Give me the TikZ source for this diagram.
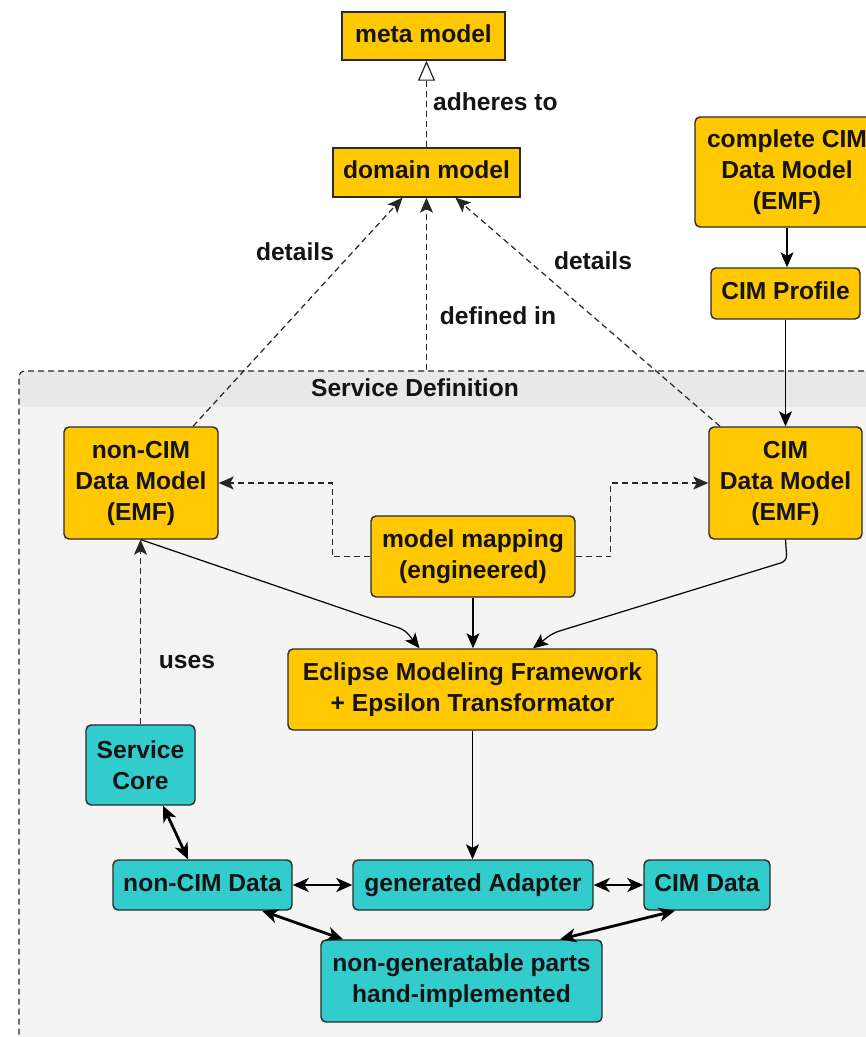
\documentclass[tikz,border=0pt]{standalone}
\usepackage{fontspec}
\setmainfont{Liberation Sans}
\usetikzlibrary{arrows.meta,calc}

\definecolor{gold}{HTML}{FFC800}
\definecolor{coreteal}{HTML}{33CCCC}
\definecolor{edgegray}{HTML}{2A2A2A}
\definecolor{bodybg}{HTML}{F4F4F4}
\definecolor{bandbg}{HTML}{E8E8E8}

\begin{document}
\begin{tikzpicture}[x=1pt,y=-1pt,
  every node/.style={font=\fontsize{24.6}{31}\selectfont\bfseries, align=center, inner sep=0pt, text=black!92},
  oneline/.style={text height=17.6pt, text depth=5.2pt},
  box/.style={draw=edgegray, line width=1.4pt, rounded corners=5pt},
  ybox/.style={box, fill=gold},
  sqbox/.style={ybox, sharp corners},
  tbox/.style={box, fill=coreteal},
  container/.style={draw=edgegray, line width=1.2pt, dash pattern=on 6pt off 4pt,
    fill=bodybg, rounded corners=6pt,
    path picture={\fill[bandbg] (path picture bounding box.north west)
      rectangle ([yshift=-36pt]path picture bounding box.north east);}},
  link/.style={draw=black, line width=1.2pt, -{Stealth[length=15pt,width=13pt,inset=3.5pt]}},
  dlink/.style={link, draw=black!85, dash pattern=on 6pt off 4pt},
  bothway/.style={draw=black, line width=2.8pt,
    {Stealth[length=16pt,width=14pt,inset=4.5pt]}-{Stealth[length=16pt,width=14pt,inset=4.5pt]}}
]
\useasboundingbox (0,0) rectangle (866,1037);
\fill[white] (0,0) rectangle (866,1037);

% Service Definition container (runs past the page on the right and bottom)
\node[container, minimum width=881pt, minimum height=709pt] (svc) at (459.5,725.5) {};
\node[oneline] (svctitle) at (415,390) {Service Definition};

% models above the container
\node[sqbox, oneline, minimum width=163pt, minimum height=48pt] (meta) at (423.5,36) {meta model};
\node[sqbox, oneline, minimum width=187pt, minimum height=49pt] (dom) at (426.5,172.5) {domain model};
\node[ybox, minimum width=184pt, minimum height=110pt] (full) at (787,172) {complete CIM\\Data Model\\(EMF)};
\node[ybox, oneline, minimum width=149pt, minimum height=51pt] (prof) at (785.5,293.5) {CIM Profile};

% models inside the container
\node[ybox, minimum width=154pt, minimum height=112pt] (ncdm) at (141,483) {non-CIM\\Data Model\\(EMF)};
\node[ybox, minimum width=153pt, minimum height=112pt] (cdm) at (785.5,483) {CIM\\Data Model\\(EMF)};
\node[ybox, minimum width=204pt, minimum height=81pt] (map) at (473,556.5) {model mapping\\(engineered)};
\node[ybox, minimum width=369pt, minimum height=81pt] (emf) at (472.5,689.5) {Eclipse Modeling Framework\\+ Epsilon Transformator};

% runtime parts
\node[tbox, minimum width=109pt, minimum height=80pt] (core) at (140.5,765) {Service\\Core};
\node[tbox, oneline, minimum width=179pt, minimum height=50pt] (ncd) at (202.5,885) {non-CIM Data};
\node[tbox, oneline, minimum width=240pt, minimum height=50pt] (gad) at (473,885) {generated Adapter};
\node[tbox, oneline, minimum width=126pt, minimum height=50pt] (cd) at (707,885) {CIM Data};
\node[tbox, minimum width=281pt, minimum height=82pt] (ngp) at (461.5,981) {non-generatable parts\\hand-implemented};

% bend points of the routed edges
\coordinate (lbend) at (405,630);
\coordinate (rknee) at (787,561);
\coordinate (rbend) at (553,633);

% model relations
\draw[dlink, -{Triangle[fill=white,length=20pt,width=17pt]}] (dom.north) -- (dom.north |- meta.south);
\node[oneline, anchor=west] (adh) at (433,104) {adheres to};

\draw[dlink] ([xshift=52pt]ncdm.north) -- ([xshift=-24pt]dom.south);
\node[oneline] (detl) at (295,254) {details};
\draw[dlink] (svc.north -| dom.south) -- (dom.south);
\node[oneline] (defin) at (498,318) {defined in};
\draw[dlink] ([xshift=-65.5pt]cdm.north) -- ([xshift=29pt]dom.south);
\node[oneline] (detr) at (593,263) {details};

\draw[link] (full.south) -- (full.south |- prof.north);
\draw[link] (prof.south) -- (prof.south |- cdm.north);

% mapping
\draw[dlink] (map.west) -- ++(-38,0) |- (ncdm.east);
\draw[dlink] (map.east) -- ++(35,0) |- (cdm.west);
\draw[link] (map.south) -- (map.south |- emf.north);
\draw[link, rounded corners=6pt] (ncdm.south) -- (lbend) -- ([xshift=-53pt]emf.north);
\draw[link, rounded corners=6pt] (cdm.south) -- (rknee) -- (rbend) -- ([xshift=60.5pt]emf.north);

% usage and generation
\draw[dlink] (core.north) -- (core.north |- ncdm.south);
\node[oneline] (uses) at (187,662) {uses};
\draw[link] (emf.south) -- (emf.south |- gad.north);

% runtime data exchange
\draw[bothway] ([xshift=22.5pt]core.south) -- ([xshift=-14.5pt]ncd.north);
\draw[bothway] (ncd.east) -- (gad.west);
\draw[bothway] (gad.east) -- (cd.west);
\draw[bothway] ([xshift=59.5pt]ncd.south) -- ([xshift=-118.5pt]ngp.north);
\draw[bothway] ([xshift=-32pt]cd.south) -- ([xshift=98.5pt]ngp.north);
\end{tikzpicture}
\end{document}
